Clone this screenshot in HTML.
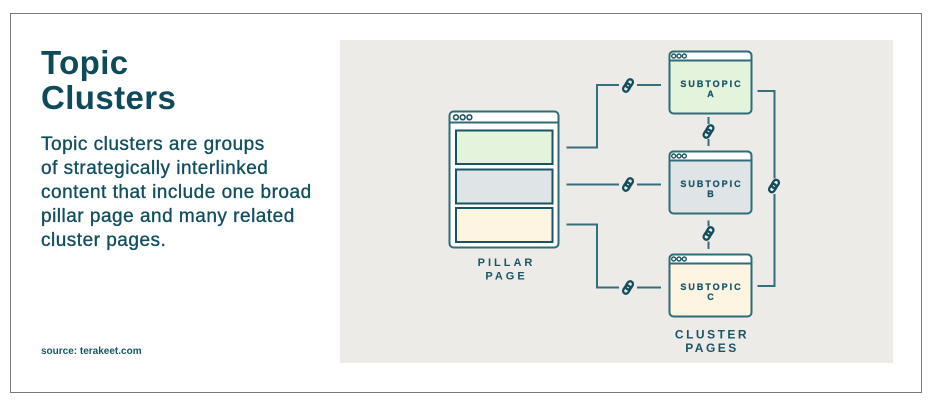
<!DOCTYPE html>
<html><head><meta charset="utf-8"><style>
html,body{margin:0;padding:0;background:#fff;}
body{width:933px;height:409px;position:relative;overflow:hidden;font-family:"Liberation Sans",sans-serif;}
.frame{position:absolute;left:10px;top:13px;width:912px;height:380px;box-sizing:border-box;border:1px solid #7a7a7a;}
.panel{position:absolute;left:340px;top:40px;width:553px;height:323px;background:#ecebe7;}
.title{position:absolute;left:41px;top:45px;font-size:33px;line-height:35px;font-weight:bold;color:#0f4a5b;letter-spacing:0.4px;white-space:nowrap;}
.body{position:absolute;left:41px;top:133px;font-size:19px;line-height:24px;color:#134e5e;letter-spacing:0.5px;white-space:nowrap;-webkit-text-stroke:0.35px #134e5e;}
.src{position:absolute;left:41px;top:346px;font-size:10px;line-height:12px;font-weight:bold;color:#1a5566;white-space:nowrap;}
svg{position:absolute;left:0;top:0;}
</style></head><body>
<div class="frame"></div>
<div class="panel"></div>
<div class="title">Topic<br>Clusters</div>
<div class="body">Topic clusters are groups<br>of strategically interlinked<br>content that include one broad<br>pillar page and many related<br>cluster pages.</div>
<div class="src">source: terakeet.com</div>
<svg width="933" height="409" viewBox="0 0 933 409" xmlns="http://www.w3.org/2000/svg">
<defs>
<g id="lk">
<g transform="rotate(-58)">
<rect x="-6.8" y="-2.8" width="8.6" height="5.6" rx="2.8" fill="none" stroke="#134c5c" stroke-width="2.3"/>
<rect x="-1.8" y="-2.8" width="8.6" height="5.6" rx="2.8" fill="none" stroke="#134c5c" stroke-width="2.3"/>
</g>
</g>
</defs>
<!-- connectors -->
<g fill="none" stroke="#356e7d" stroke-width="2">
<path d="M566.5 147.5 H597 V85 H619"/>
<path d="M637 85 H661"/>
<path d="M566.5 184.5 H619"/>
<path d="M637 184.5 H661"/>
<path d="M566.5 224.5 H597 V287.5 H619"/>
<path d="M637 287.5 H661"/>
<path d="M757.5 91 H774.5 V178.5"/>
<path d="M774.5 194 V286 H757.5"/>
<path d="M708.5 117 V124"/>
<path d="M708.5 139 V146"/>
<path d="M708.5 220.5 V226.5"/>
<path d="M708.5 241.5 V249"/>
</g>
<use href="#lk" x="628" y="85.5"/>
<use href="#lk" x="628" y="184.5"/>
<use href="#lk" x="628" y="287.5"/>
<use href="#lk" x="774" y="186"/>
<use href="#lk" x="708.5" y="131.5"/>
<use href="#lk" x="708.5" y="233.5"/>
<!-- pillar page -->
<rect x="449.5" y="111.5" width="109" height="136" rx="4" fill="#fff" stroke="#2f6c7a" stroke-width="2"/>
<line x1="449.5" y1="122.5" x2="558.5" y2="122.5" stroke="#2f6c7a" stroke-width="2"/>
<g fill="#fff" stroke="#1a5566" stroke-width="1.6">
<circle cx="456" cy="117.3" r="2.4"/><circle cx="462.7" cy="117.3" r="2.4"/><circle cx="469.4" cy="117.3" r="2.4"/>
</g>
<rect x="456" y="130.5" width="96.5" height="33.5" fill="#e3f3dc" stroke="#1a5363" stroke-width="2"/>
<rect x="456" y="169.5" width="96.5" height="34" fill="#dfe5e6" stroke="#1a5363" stroke-width="2"/>
<rect x="456" y="208" width="96.5" height="34" fill="#fdf5e2" stroke="#1a5363" stroke-width="2"/>
<!-- subtopics -->
<g stroke="#2f6c7a" stroke-width="2">
<rect x="669.5" y="51.5" width="82" height="62" rx="4" fill="#e3f3dc"/>
<path d="M669.5 60.5 V55.5 a4 4 0 0 1 4 -4 H747.5 a4 4 0 0 1 4 4 V60.5 Z" fill="#fff"/>
<rect x="669.5" y="151.5" width="82" height="62" rx="4" fill="#dfe5e6"/>
<path d="M669.5 160.5 V155.5 a4 4 0 0 1 4 -4 H747.5 a4 4 0 0 1 4 4 V160.5 Z" fill="#fff"/>
<rect x="669.5" y="254.5" width="82" height="62" rx="4" fill="#fdf5e2"/>
<path d="M669.5 263.5 V258.5 a4 4 0 0 1 4 -4 H747.5 a4 4 0 0 1 4 4 V263.5 Z" fill="#fff"/>
</g>
<g fill="#fff" stroke="#1a5566" stroke-width="1.4">
<circle cx="673.7" cy="56" r="2"/><circle cx="679" cy="56" r="2"/><circle cx="684.3" cy="56" r="2"/>
<circle cx="673.7" cy="156" r="2"/><circle cx="679" cy="156" r="2"/><circle cx="684.3" cy="156" r="2"/>
<circle cx="673.7" cy="259" r="2"/><circle cx="679" cy="259" r="2"/><circle cx="684.3" cy="259" r="2"/>
</g>
<g font-family="Liberation Sans, sans-serif" font-weight="bold" fill="#1a5566" text-anchor="middle">
<g font-size="9" letter-spacing="2" stroke="#1a5566" stroke-width="0.25">
<text x="711.5" y="87">SUBTOPIC</text><text x="711.5" y="97">A</text>
<text x="711.5" y="187">SUBTOPIC</text><text x="711.5" y="197">B</text>
<text x="711.5" y="290">SUBTOPIC</text><text x="711.5" y="300">C</text>
</g>
<g font-size="11" letter-spacing="3">
<text x="506.5" y="266">PILLAR</text>
<text x="506.5" y="279.5">PAGE</text>
</g>
<g font-size="12" letter-spacing="2.5">
<text x="712" y="338.5">CLUSTER</text>
<text x="712" y="352">PAGES</text>
</g>
</g>
</svg>
</body></html>
